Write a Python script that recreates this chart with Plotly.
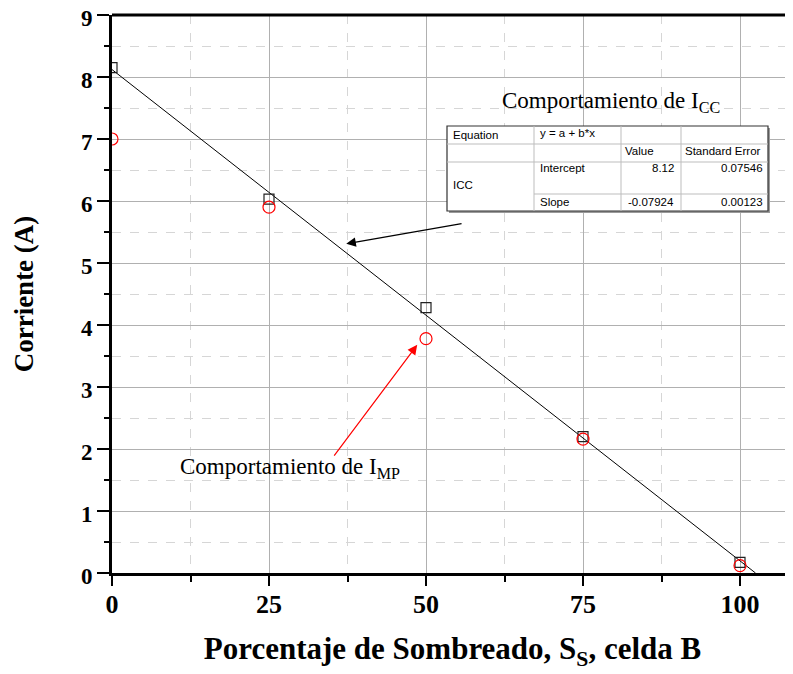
import plotly.graph_objects as go

# ---------------- data ----------------
shading = [0, 25, 50, 75, 100]
icc = [8.15, 6.03, 4.28, 2.20, 0.17]
imp = [7.00, 5.90, 3.78, 2.16, 0.12]
fit_intercept = 8.12
fit_slope = -0.07924
fit_se = ["0.07546", "0.00123"]

x_ticks = [0, 25, 50, 75, 100]
y_ticks = [0, 1, 2, 3, 4, 5, 6, 7, 8, 9]

# page is 793x674; the html body has an 8px margin, so the figure is shrunk by 8
OFF = 8
W, H = 793 - OFF, 674 - OFF
PL, PR, PT, PB = 112, 793, 15, 573          # plot area in page pixels
L, T = PL - OFF, PT - OFF
R = 0
B = H - (PB - OFF)
PW, PH = PR - PL, PB - PT


def px(x):
    return (x - PL) / PW


def py(y):
    return (PB - y) / PH


fig = go.Figure()

x_end = -fit_intercept / fit_slope
fig.add_trace(go.Scatter(
    x=[0, x_end], y=[fit_intercept, fit_intercept + fit_slope * x_end],
    mode="lines", line=dict(color="black", width=1), showlegend=False))
fig.add_trace(go.Scatter(
    x=shading, y=icc, mode="markers", showlegend=False,
    marker=dict(symbol="square-open", size=10, color="#222222", line=dict(width=1.2))))
fig.add_trace(go.Scatter(
    x=shading, y=imp, mode="markers", showlegend=False,
    marker=dict(symbol="circle-open", size=12, color="#ff0000", line=dict(width=1.2))))

serif = "Liberation Serif"
axis_common = dict(
    showline=True, linecolor="black", linewidth=3,
    ticks="outside", tickcolor="black", tickwidth=2,
    showgrid=True, gridcolor="#b0b0b0", gridwidth=1,
    zeroline=False, ticklabeloverflow="allow",
)

fig.update_xaxes(
    **axis_common, range=[0, PW / 6.28], tickvals=x_ticks, ticklen=10,
    tickfont=dict(family=serif, size=26, color="black", weight="bold"),
    ticklabelstandoff=-4,
    minor=dict(dtick=12.5, tick0=0, showgrid=True, griddash="dash", gridcolor="#d6d6d6",
               ticks="outside", ticklen=6, tickwidth=2, tickcolor="black"),
    title=dict(text="Porcentaje de Sombreado, S<sub>S</sub>, celda B",
               font=dict(family=serif, size=31, color="black", weight="bold"), standoff=20),
)
fig.update_yaxes(
    **axis_common, range=[0, 9], tickvals=y_ticks, ticklen=12,
    tickfont=dict(family=serif, size=23, color="black", weight="bold"),
    ticklabelshift=3,
    minor=dict(dtick=0.5, tick0=0, showgrid=True, griddash="dash", gridcolor="#d6d6d6",
               ticks="outside", ticklen=5, tickwidth=2, tickcolor="black"),
    title=dict(text="Corriente (A)",
               font=dict(family=serif, size=27, color="black", weight="bold"), standoff=40),
)

shapes = []
# top border
shapes.append(dict(type="line", xref="paper", yref="paper", x0=0, x1=1, y0=1, y1=1,
                   line=dict(color="black", width=3)))

# table
tx0, tx1, ty0, ty1 = 447, 768, 126, 211
cols = [534, 621, 681]
shapes.append(dict(type="rect", xref="paper", yref="paper",
                   x0=px(tx0 + 2), x1=px(tx1 + 2), y0=py(ty1 + 2), y1=py(ty0 + 2),
                   fillcolor="#9a9a9a", line=dict(width=0), layer="above"))
shapes.append(dict(type="rect", xref="paper", yref="paper",
                   x0=px(tx0), x1=px(tx1), y0=py(ty1), y1=py(ty0),
                   fillcolor="white", line=dict(color="#333333", width=1.2), layer="above"))
for c in cols:
    shapes.append(dict(type="line", xref="paper", yref="paper", x0=px(c), x1=px(c),
                       y0=py(ty1), y1=py(ty0), line=dict(color="#bdbdbd", width=1), layer="above"))
for r in [144, 162]:
    shapes.append(dict(type="line", xref="paper", yref="paper", x0=px(tx0), x1=px(tx1),
                       y0=py(r), y1=py(r), line=dict(color="#bdbdbd", width=1), layer="above"))
shapes.append(dict(type="line", xref="paper", yref="paper", x0=px(534), x1=px(tx1),
                   y0=py(194), y1=py(194), line=dict(color="#bdbdbd", width=1), layer="above"))

annotations = []
sans = "Liberation Sans"


def cell(text, x, y, anchor="left"):
    annotations.append(dict(text=text, xref="paper", yref="paper", x=px(x), y=py(y),
                            xanchor=anchor, yanchor="middle", showarrow=False,
                            font=dict(family=sans, size=11.5, color="black")))


cell("Equation", 451, 135)
cell("y = a + b*x", 538, 133)
cell("Value", 623, 151)
cell("Standard Error", 683, 151)
cell("Intercept", 538, 168)
cell("{:.2f}".format(fit_intercept), 676, 168, "right")
cell(fit_se[0], 765, 168, "right")
cell("ICC", 451, 185)
cell("Slope", 538, 202)
cell("{:.5f}".format(fit_slope), 676, 202, "right")
cell(fit_se[1], 765, 202, "right")

annotations.append(dict(text="Comportamiento de I<sub>CC</sub>", xref="paper", yref="paper",
                        x=px(500), y=py(118), xanchor="left", yanchor="bottom", showarrow=False,
                        font=dict(family=serif, size=23, color="black")))
annotations.append(dict(text="Comportamiento de I<sub>MP</sub>", xref="paper", yref="paper",
                        x=px(178), y=py(484), xanchor="left", yanchor="bottom", showarrow=False,
                        font=dict(family=serif, size=23, color="black")))

# arrows
annotations.append(dict(x=37.3, y=5.31, ax=55.9, ay=5.64, xref="x", yref="y", axref="x", ayref="y",
                        text="", showarrow=True, arrowhead=2, arrowsize=1.6, arrowwidth=1.2,
                        arrowcolor="black"))
annotations.append(dict(x=48.6, y=3.68, ax=35.2, ay=1.87, xref="x", yref="y", axref="x", ayref="y",
                        text="", showarrow=True, arrowhead=2, arrowsize=1.6, arrowwidth=1.2,
                        arrowcolor="#ff0000"))

fig.update_layout(
    width=W, height=H, margin=dict(l=L, r=R, t=T, b=B, autoexpand=False),
    plot_bgcolor="white", paper_bgcolor="white",
    shapes=shapes, annotations=annotations, showlegend=False,
)

fig.write_html("out.html")
